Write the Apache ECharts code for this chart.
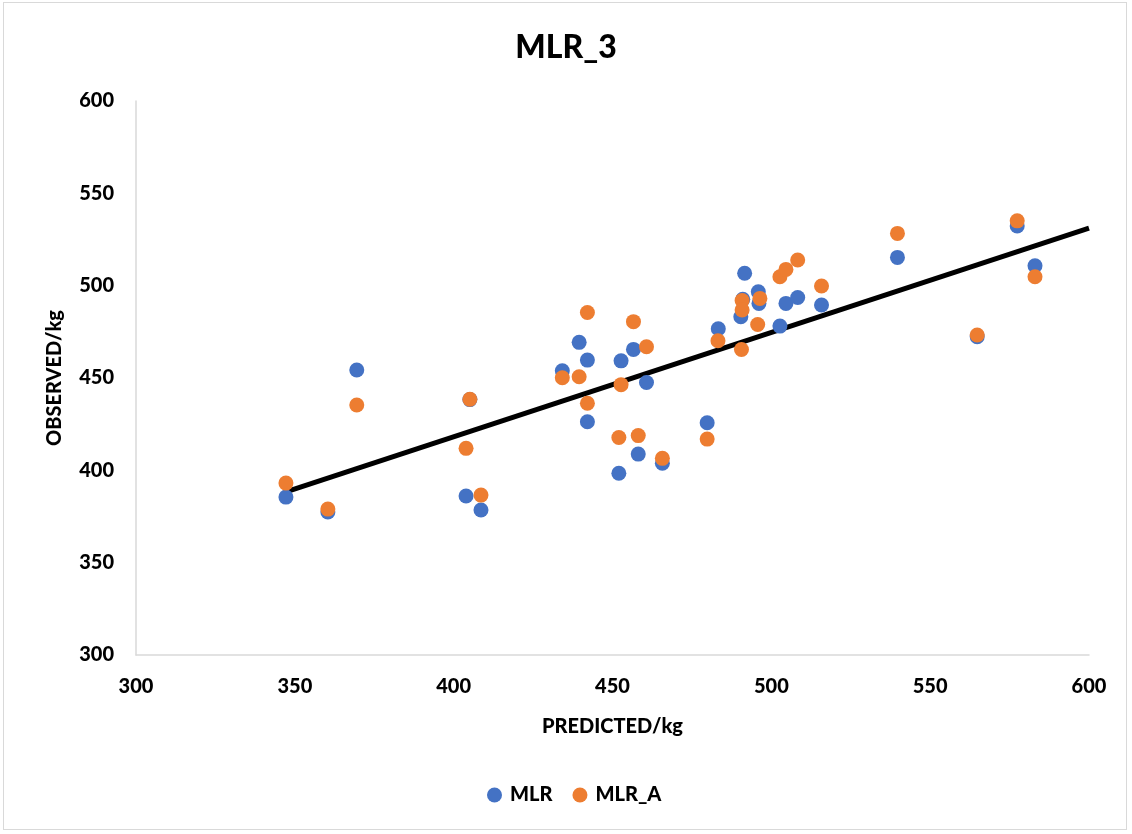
<!DOCTYPE html>
<html>
<head>
<meta charset="utf-8">
<script src="https://cdn.jsdelivr.net/npm/echarts@6/dist/echarts.min.js"></script>
<style>
  html, body { margin: 0; padding: 0; background: #fff; }
  #frame { position: absolute; left: 3px; top: 2px; width: 1124px; height: 828px; border: 1px solid #d9d9d9; box-sizing: border-box; }
  #chart { position: absolute; left: 0; top: 0; width: 1132px; height: 834px; }
</style>
</head>
<body>
<div id="frame"></div>
<div id="chart"></div>
<script>
// Predicted vs observed weight (kg)
const predicted = [347.2, 360.4, 369.5, 403.9, 405.1, 408.6, 434.2, 439.5, 442.1, 442.1,
  452.0, 452.7, 456.6, 458.1, 460.7, 465.7, 479.8, 483.3, 490.4, 491.6, 491.0, 495.9,
  496.1, 502.7, 504.6, 508.3, 515.8, 539.7, 564.8, 577.4, 583.0];
const observedMLR = [385.5, 377.4, 454.3, 386.1, 438.3, 378.5, 453.9, 469.3, 459.7, 426.3,
  398.4, 459.3, 465.5, 408.8, 447.6, 403.8, 425.8, 476.7, 483.2, 506.7, 492.6, 496.7,
  490.4, 478.1, 490.4, 493.6, 489.5, 515.3, 472.4, 532.3, 510.8];
const predictedA = [347.2, 360.4, 369.5, 403.9, 405.1, 408.6, 434.2, 439.5, 442.1, 442.1,
  452.0, 452.7, 456.6, 458.1, 460.7, 465.7, 479.8, 483.2, 490.6, 490.8, 490.8, 496.4,
  495.7, 502.7, 504.6, 508.3, 515.8, 539.7, 564.8, 577.4, 583.0];
const observedMLRA = [393.1, 379.0, 435.4, 411.9, 438.5, 386.6, 450.1, 450.7, 485.5, 436.3,
  417.8, 446.4, 480.5, 418.8, 466.9, 406.5, 416.9, 470.2, 465.4, 491.9, 486.8, 493.1,
  479.0, 504.8, 508.8, 513.9, 499.8, 528.3, 473.3, 535.1, 504.8];
// Linear trend endpoints
const trendX = [347.2, 600];
const trendY = [388.3, 531.2];
const axisTicks = { min: 300, max: 600, interval: 50 };

const FONT = 'Lato';
const WEIGHT = 900;
const chart = echarts.init(document.getElementById('chart'));

const pairs = (xs, ys) => xs.map((x, i) => [x, ys[i]]);

chart.setOption({
  animation: false,
  backgroundColor: 'transparent',
  title: {
    text: 'MLR_3',
    left: 'center',
    top: 27,
    textStyle: { fontFamily: FONT, fontSize: 32, fontWeight: WEIGHT, color: '#000' }
  },
  legend: {
    data: ['MLR', 'MLR_A'],
    bottom: 24,
    left: 482,
    icon: 'circle',
    itemWidth: 15,
    itemHeight: 15,
    itemGap: 20,
    textStyle: { fontFamily: FONT, fontSize: 20, fontWeight: WEIGHT, color: '#000', padding: [0, 0, 0, 3] }
  },
  grid: { left: 136, right: 43, top: 101, bottom: 179 },
  xAxis: {
    type: 'value',
    min: axisTicks.min, max: axisTicks.max, interval: axisTicks.interval,
    name: 'PREDICTED/kg',
    nameLocation: 'middle',
    nameGap: 62,
    nameTextStyle: { fontFamily: FONT, fontSize: 20, fontWeight: WEIGHT, color: '#000' },
    axisLine: { show: true, lineStyle: { color: '#d9d9d9', width: 1.5 } },
    axisTick: { show: false },
    splitLine: { show: false },
    axisLabel: { fontFamily: FONT, fontSize: 20, fontWeight: WEIGHT, color: '#000', margin: 22 }
  },
  yAxis: {
    type: 'value',
    min: axisTicks.min, max: axisTicks.max, interval: axisTicks.interval,
    name: 'OBSERVED/kg',
    nameLocation: 'middle',
    nameGap: 71,
    nameTextStyle: { fontFamily: FONT, fontSize: 20, fontWeight: WEIGHT, color: '#000' },
    axisLine: { show: true, lineStyle: { color: '#d9d9d9', width: 1.5 } },
    axisTick: { show: false },
    splitLine: { show: false },
    axisLabel: { fontFamily: FONT, fontSize: 20, fontWeight: WEIGHT, color: '#000', margin: 22 }
  },
  series: [
    {
      name: 'Trend',
      type: 'line',
      data: pairs(trendX, trendY),
      symbol: 'none',
      lineStyle: { color: '#000', width: 5 },
      z: 1,
      silent: true
    },
    {
      name: 'MLR',
      type: 'scatter',
      data: pairs(predicted, observedMLR),
      symbolSize: 15,
      itemStyle: { color: '#4472C4', opacity: 1 },
      z: 2
    },
    {
      name: 'MLR_A',
      type: 'scatter',
      data: pairs(predictedA, observedMLRA),
      symbolSize: 15,
      itemStyle: { color: '#ED7D31', opacity: 1 },
      z: 3
    }
  ]
});
</script>
</body>
</html>
